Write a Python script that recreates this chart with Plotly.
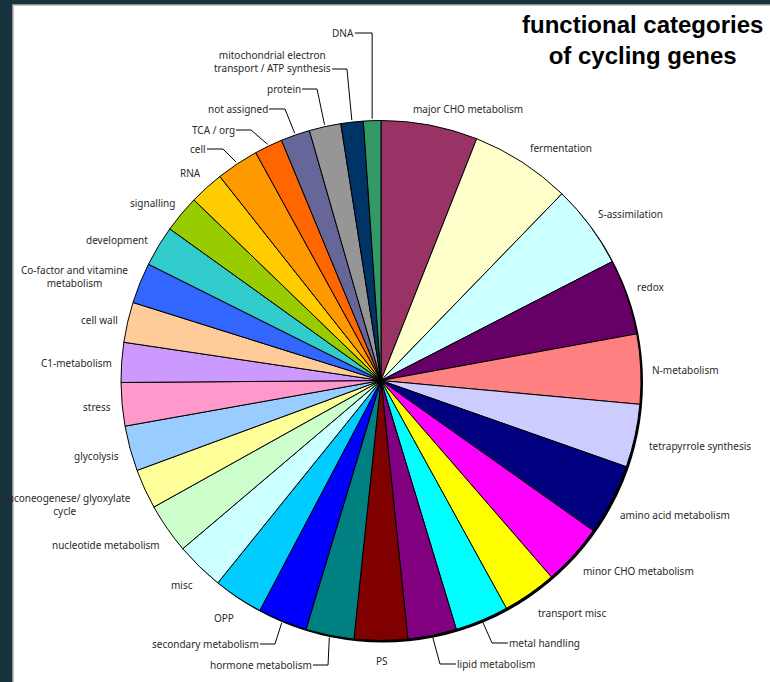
import math
import plotly.graph_objects as go

# Functional categories of cycling genes (share of genes, %), clockwise from 12 o'clock
categories = [
    "major CHO metabolism", "fermentation", "S-assimilation", "redox", "N-metabolism",
    "tetrapyrrole synthesis", "amino acid metabolism", "minor CHO metabolism",
    "transport misc", "metal handling", "lipid metabolism", "PS", "hormone metabolism",
    "secondary metabolism", "OPP", "misc", "nucleotide metabolism",
    "gluconeogenese/ glyoxylate cycle", "glycolysis", "stress", "C1-metabolism",
    "cell wall", "Co-factor and vitamine metabolism", "development", "signalling",
    "RNA", "cell", "TCA / org", "not assigned", "protein",
    "mitochondrial electron transport / ATP synthesis", "DNA",
]
shares = [
    6.00, 6.25, 5.19, 4.69, 4.33, 3.92, 4.42, 3.83, 3.36, 3.33, 3.03, 3.31, 3.00,
    3.06, 3.08, 3.00, 3.11, 2.47, 2.81, 2.69, 2.47, 2.50, 2.53, 2.53, 2.31, 2.14,
    2.64, 1.75, 1.81, 1.97, 1.39, 1.08,
]
colors = [
    "#993366", "#FFFFCC", "#CCFFFF", "#660066", "#FF8080", "#CCCCFF", "#000080",
    "#FF00FF", "#FFFF00", "#00FFFF", "#800080", "#800000", "#008080", "#0000FF",
    "#00CCFF", "#CCFFFF", "#CCFFCC", "#FFFF99", "#99CCFF", "#FF99CC", "#CC99FF",
    "#FFCC99", "#3366FF", "#33CCCC", "#99CC00", "#FFCC00", "#FF9900", "#FF6600",
    "#666699", "#969696", "#003366", "#339966",
]

W, H = 770, 682
CX, CY, R = 381.0, 380.5, 260.0


def px(x):
    return x / W


def py(y):
    return 1 - y / H


# label placement: (display text, x, y, xanchor, leader elbow x, leader y)
# elbow "v" -> vertical leader straight down to the slice edge
label_pos = {
    "major CHO metabolism": ("major CHO metabolism", 468, 109, "center", None, None),
    "fermentation": ("fermentation", 561, 148, "center", None, None),
    "S-assimilation": ("S-assimilation", 630, 214, "center", None, None),
    "redox": ("redox", 651, 287, "center", None, None),
    "N-metabolism": ("N-metabolism", 685, 370, "center", None, None),
    "tetrapyrrole synthesis": ("tetrapyrrole synthesis", 700, 446, "center", None, None),
    "amino acid metabolism": ("amino acid metabolism", 675, 515, "center", None, None),
    "minor CHO metabolism": ("minor CHO metabolism", 638, 571, "center", None, None),
    "transport misc": ("transport misc", 572, 613, "center", None, None),
    "metal handling": ("metal handling", 509, 643, "left", 492, 643),
    "lipid metabolism": ("lipid metabolism", 457, 664, "left", 440, 664),
    "PS": ("PS", 382, 661, "center", None, None),
    "hormone metabolism": ("hormone metabolism", 312, 665, "right", 328, 665),
    "secondary metabolism": ("secondary metabolism", 259, 644, "right", 275, 644),
    "OPP": ("OPP", 224, 618, "center", None, None),
    "misc": ("misc", 182, 585, "center", None, None),
    "nucleotide metabolism": ("nucleotide metabolism", 106, 545, "center", None, None),
    "gluconeogenese/ glyoxylate cycle": ("gluconeogenese/ glyoxylate<br>cycle", 65, 504, "center", None, None),
    "glycolysis": ("glycolysis", 97, 456, "center", None, None),
    "stress": ("stress", 97, 407, "center", None, None),
    "C1-metabolism": ("C1-metabolism", 76, 363, "center", None, None),
    "cell wall": ("cell wall", 100, 320, "center", None, None),
    "Co-factor and vitamine metabolism": ("Co-factor and vitamine<br>metabolism", 74, 276, "center", None, None),
    "development": ("development", 117, 240, "center", None, None),
    "signalling": ("signalling", 152, 203, "center", None, None),
    "RNA": ("RNA", 190, 173, "center", None, None),
    "cell": ("cell", 206, 149, "right", 223, 149),
    "TCA / org": ("TCA / org", 235, 130, "right", 251, 130),
    "not assigned": ("not assigned", 268, 109, "right", 285, 109),
    "protein": ("protein", 301, 89, "right", 317, 89),
    "mitochondrial electron transport / ATP synthesis": (
        "mitochondrial electron<br>transport / ATP synthesis", 331, 61, "right", 347, 69),
    "DNA": ("DNA", 354, 33, "right", "v", 33),
}

fig = go.Figure()
fig.add_trace(go.Pie(
    labels=categories,
    values=shares,
    sort=False,
    direction="clockwise",
    rotation=0,
    marker=dict(colors=colors, line=dict(color="#000000", width=1)),
    textinfo="none",
    hoverinfo="label+percent",
    showlegend=False,
    domain=dict(x=[px(CX - R), px(CX + R)], y=[py(CY + R), py(CY - R)]),
))

shapes = [
    # frame and white panel
    dict(type="rect", xref="paper", yref="paper", x0=px(12), x1=1.01, y0=-0.01, y1=py(4),
         fillcolor="#8c8c8c", line=dict(width=0), layer="below"),
    dict(type="rect", xref="paper", yref="paper", x0=px(13), x1=1.01, y0=-0.01, y1=py(5),
         fillcolor="#c8c8c8", line=dict(width=0), layer="below"),
    dict(type="rect", xref="paper", yref="paper", x0=px(14), x1=1.01, y0=-0.01, y1=py(6),
         fillcolor="#ffffff", line=dict(width=0), layer="below"),
    # drop shadow of the pie
    dict(type="circle", xref="paper", yref="paper",
         x0=px(CX - R + 2), x1=px(CX + R + 2), y0=py(CY + R + 2), y1=py(CY - R + 2),
         fillcolor="#000000", line=dict(width=0), layer="below"),
]

annotations = []
total = sum(shares)
cum = 0.0
for cat, val in zip(categories, shares):
    mid = (cum + val / 2) / total * 2 * math.pi
    cum += val
    text, lx, ly, anchor, elbow, lead_y = label_pos[cat]
    # compensate the annotation box padding so leaders sit close to the text
    tx = lx + 2 if anchor == "right" else (lx - 2 if anchor == "left" else lx)
    annotations.append(dict(
        x=px(tx), y=py(ly), xref="paper", yref="paper", text=text, showarrow=False,
        xanchor=anchor, yanchor="middle", align="center",
        font=dict(family="Noto Sans", size=10, color="#2a2a2a"),
    ))
    if elbow is not None:
        ex = CX + (R + 2) * math.sin(mid)
        ey = CY - (R + 2) * math.cos(mid)
        start = lx + 1 if anchor == "right" else lx - 1
        kx = ex if elbow == "v" else elbow
        path = "M {:.4f},{:.4f} L {:.4f},{:.4f} L {:.4f},{:.4f}".format(
            px(start), py(lead_y), px(kx), py(lead_y), px(ex), py(ey))
        shapes.append(dict(type="path", xref="paper", yref="paper", path=path,
                           line=dict(color="#000000", width=1)))

annotations.append(dict(
    x=px(642), y=py(40), xref="paper", yref="paper",
    text="<b>functional categories<br>of cycling genes</b>", showarrow=False,
    xanchor="center", yanchor="middle", align="center",
    font=dict(family="Liberation Sans", size=24, color="#000000"),
))

fig.update_layout(
    width=W, height=H,
    margin=dict(l=0, r=0, t=0, b=0),
    paper_bgcolor="#17333e",
    plot_bgcolor="#ffffff",
    shapes=shapes,
    annotations=annotations,
)

fig.write_html("out.html")
